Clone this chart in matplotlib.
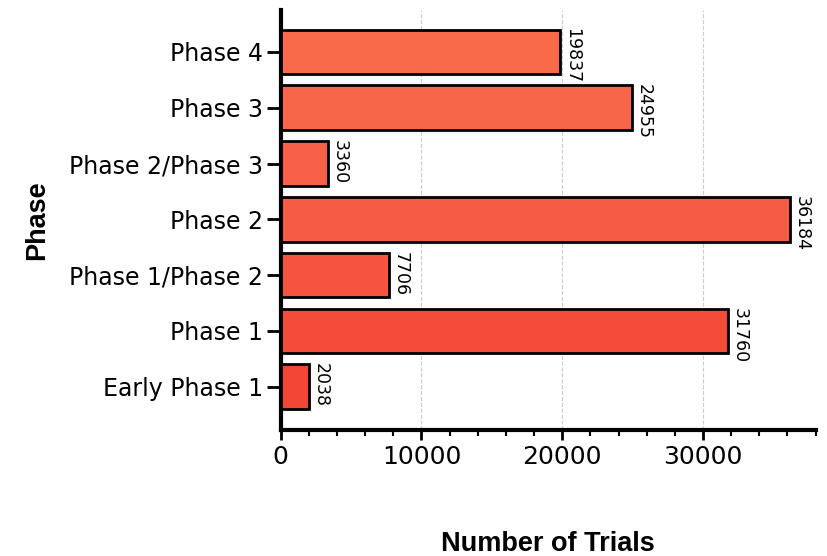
import matplotlib
matplotlib.use("Agg")
import matplotlib.pyplot as plt
from matplotlib.ticker import MultipleLocator

categories = ["Early Phase 1", "Phase 1", "Phase 1/Phase 2", "Phase 2",
              "Phase 2/Phase 3", "Phase 3", "Phase 4"]
trials = [2038, 31760, 7706, 36184, 3360, 24955, 19837]
bar_colors = ["#F24735", "#F34C39", "#F5553F", "#F65B43", "#F76147", "#F8664A", "#F96A4B"]

fig = plt.figure(figsize=(8.28, 5.56), dpi=100)
ax = fig.add_axes([0.339, 0.227, 0.646, 0.755])

ypos = list(range(len(categories)))
ax.barh(ypos, trials, height=0.8, color=bar_colors, edgecolor="black", linewidth=2, zorder=3)

for y, v in zip(ypos, trials):
    ax.text(v + 200, y + 0.42, str(v), rotation=-90, ha="left", va="top",
            fontsize=12.5, zorder=4)

ax.set_yticks(ypos)
ax.set_yticklabels(categories, fontsize=17)
ax.set_xlim(0, 38000)
ax.set_ylim(-0.77, 6.75)
ax.xaxis.set_major_locator(MultipleLocator(10000))
ax.xaxis.set_minor_locator(MultipleLocator(2000))
ax.tick_params(axis="x", labelsize=18, width=2, length=7, pad=4)
ax.tick_params(axis="x", which="minor", width=1.5, length=4)
ax.tick_params(axis="y", width=2, length=10, pad=3)
ax.grid(axis="x", which="major", linestyle="--", color="#cccccc", linewidth=0.8, zorder=0)

for s in ["top", "right"]:
    ax.spines[s].set_visible(False)
for s in ["left", "bottom"]:
    ax.spines[s].set_linewidth(3)

ax.set_xlabel("Number of Trials", fontsize=19.5, fontweight="bold", family="Liberation Sans")
ax.set_ylabel("Phase", fontsize=19.5, fontweight="bold", family="Liberation Sans")
ax.xaxis.set_label_coords(0.5, -0.242)
ax.yaxis.set_label_coords(-0.431, 0.5)

fig.savefig("out.png", dpi=100)
